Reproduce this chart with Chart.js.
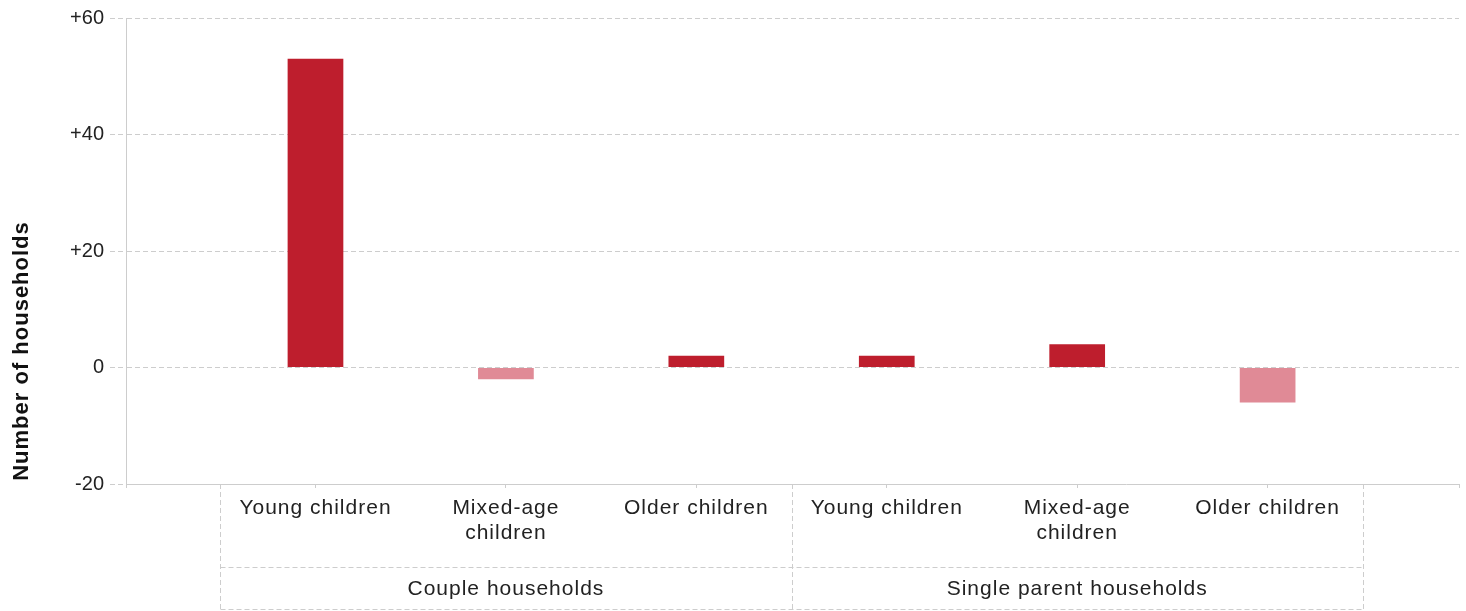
<!DOCTYPE html>
<html>
<head>
<meta charset="utf-8">
<script src="https://cdn.jsdelivr.net/npm/chart.js@4/dist/chart.umd.min.js"></script>
<style>
  html, body { margin: 0; padding: 0; background: #fff; }
  #wrap { width: 1466px; height: 611px; position: relative; }
</style>
</head>
<body>
<div id="wrap"><canvas id="chart"></canvas></div>
<script>
// categories, grouped by household type
const categories = [
  ['Young children'], ['Mixed-age', 'children'], ['Older children'],
  ['Young children'], ['Mixed-age', 'children'], ['Older children']
];
const groups = ['Couple households', 'Single parent households'];
const groupStart = [0, 3];
const groupEnd = [2, 5];
// change in number of households
const changes = [53, -2, 2, 2, 4, -6];
const yTicks = [-20, 0, 20, 40, 60];
const yTitle = 'Number of households';

const RED = '#BE1E2D';
const PINK = '#E08A96';
const LINE = '#cdcdcd';
const TEXT = '#222222';
const FONT = '"Liberation Sans", Arial, sans-serif';

// table of category labels under the axis + y title
const tablePlugin = {
  id: 'table',
  afterDraw(chart) {
    const ctx = chart.ctx;
    const x = chart.scales.x;
    const top = chart.chartArea.bottom;
    const bottom = 609.5;
    const mid = 567.5;
    const left = Math.round(x.getPixelForValue(-0.5)) + 0.5;
    const right = Math.round(x.getPixelForValue(categories.length - 0.5)) + 0.5;

    ctx.save();
    ctx.strokeStyle = LINE;
    ctx.lineWidth = 1;
    ctx.setLineDash([5, 3]);
    ctx.beginPath();
    // vertical separators
    [left, Math.round(x.getPixelForValue(groupEnd[0] + 0.5)) + 0.5, right].forEach(px => {
      ctx.moveTo(px, top);
      ctx.lineTo(px, bottom);
    });
    ctx.moveTo(left, mid); ctx.lineTo(right, mid);
    ctx.moveTo(left, bottom); ctx.lineTo(right, bottom);
    ctx.stroke();
    ctx.restore();

    ctx.save();
    ctx.fillStyle = TEXT;
    ctx.font = '21px ' + FONT;
    ctx.letterSpacing = '1px';
    ctx.textAlign = 'center';
    ctx.textBaseline = 'alphabetic';
    categories.forEach((lines, i) => {
      const cx = x.getPixelForValue(i);
      lines.forEach((t, j) => ctx.fillText(t, cx, 514 + j * 25));
    });
    groups.forEach((g, k) => {
      const cx = x.getPixelForValue((groupStart[k] + groupEnd[k]) / 2);
      ctx.fillText(g, cx, 595);
    });
    ctx.restore();

    // y axis title
    ctx.save();
    ctx.fillStyle = '#111';
    ctx.font = 'bold 22px ' + FONT;
    ctx.letterSpacing = '1px';
    ctx.textAlign = 'center';
    ctx.textBaseline = 'middle';
    ctx.translate(22, 351);
    ctx.rotate(-Math.PI / 2);
    ctx.fillText(yTitle, 0, 0);
    ctx.restore();
  }
};

new Chart(document.getElementById('chart'), {
  type: 'bar',
  data: {
    datasets: [{
      data: changes.map((v, i) => ({ x: i, y: v })),
      backgroundColor: ctx => (ctx.raw && ctx.raw.y < 0 ? PINK : RED),
      borderWidth: 0,
      barPercentage: 1,
      categoryPercentage: 0.294
    }]
  },
  options: {
    responsive: true,
    maintainAspectRatio: false,
    animation: false,
    layout: { padding: { left: 0, right: 7, top: 18, bottom: 0 } },
    plugins: { legend: { display: false }, tooltip: { enabled: false } },
    scales: {
      x: {
        type: 'linear',
        min: -0.995,
        max: 6.005,
        offset: false,
        afterBuildTicks: s => { s.ticks = [-0.995, 0, 1, 2, 3, 4, 5, 6.005].map(v => ({ value: v })); },
        ticks: { display: false },
        grid: { offset: false, drawOnChartArea: false, drawTicks: true, tickLength: 4, color: LINE },
        border: { display: true, color: LINE },
        afterFit: s => { s.height = 127; }
      },
      y: {
        min: yTicks[0],
        max: yTicks[yTicks.length - 1],
        afterBuildTicks: s => { s.ticks = yTicks.map(v => ({ value: v })); },
        ticks: {
          callback: v => (v > 0 ? '+' + v : String(v)),
          color: TEXT,
          font: { family: FONT, size: 20 },
          padding: 6
        },
        grid: { color: LINE, tickLength: 16, tickBorderDash: [5, 3] },
        border: { display: true, color: LINE, dash: [5, 3] },
        afterFit: s => { s.width = 126; }
      }
    }
  },
  plugins: [tablePlugin]
});
</script>
</body>
</html>
